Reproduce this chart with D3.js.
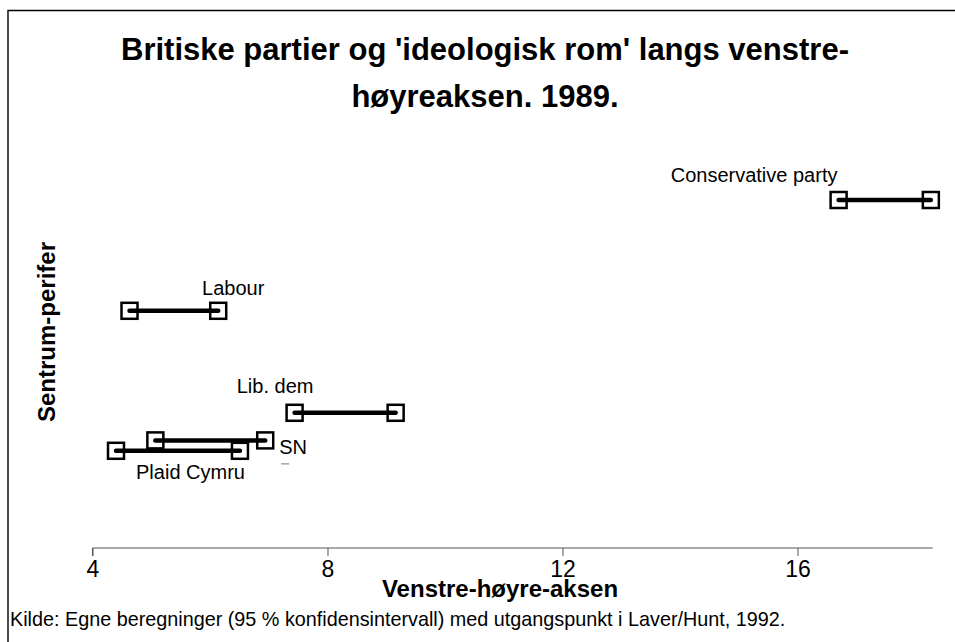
<!DOCTYPE html>
<html>
<head>
<meta charset="utf-8">
<script src="https://cdn.jsdelivr.net/npm/d3@7"></script>
<style>
  body { margin: 0; background: #fff; }
  svg { font-family: "Liberation Sans", Arial, sans-serif; }
</style>
</head>
<body>
<svg id="chart" width="955" height="642"></svg>
<script>
// parties, with the low / high end of the interval on the left-right axis
var parties = ["Conservative party", "Labour", "Lib. dem", "SN", "Plaid Cymru"];
var lowValues = [16.70, 4.63, 7.44, 5.07, 4.40];
var highValues = [18.27, 6.14, 9.16, 6.94, 6.51];
// centre-periphery position (no axis shown in the original)
var periphery = [8.7, 5.93, 3.38, 2.69, 2.43];
var xTicks = [4, 8, 12, 16];

var svg = d3.select('#chart');
var W = 955, H = 642;

var x = d3.scaleLinear().domain([4, 18.3]).range([92.5, 932.6]);
var y = d3.scaleLinear().domain([0, 10]).range([548, 148]);

var data = parties.map(function(p, i){
	return {name: p, lo: lowValues[i], hi: highValues[i], y: periphery[i]};
});

// frame (chart area is cropped on the right and bottom)
svg.append('path')
	.attr('d', 'M8,' + (H + 10) + 'V10.5H' + (W + 10))
	.attr('fill', 'none').attr('stroke', '#000').attr('stroke-width', 1.4);

// title
var title = svg.append('text')
	.attr('text-anchor', 'middle')
	.attr('font-weight', 'bold')
	.attr('font-size', 31);
title.append('tspan').attr('x', 485).attr('y', 60).text("Britiske partier og 'ideologisk rom' langs venstre-");
title.append('tspan').attr('x', 485).attr('y', 107).text("høyreaksen. 1989.");

// x axis
var xAxis = svg.append('g')
	.attr('transform', 'translate(0,' + y(0) + ')')
	.call(d3.axisBottom(x).tickValues(xTicks).tickSize(8).tickPadding(5).tickFormat(d3.format('d')));
xAxis.select('.domain').attr('stroke', '#555').attr('d', 'M' + x.range()[0] + ',8V0H' + x.range()[1]);
xAxis.selectAll('.tick line').attr('stroke', '#555');
xAxis.selectAll('.tick text')
	.attr('font-family', '"Liberation Sans", Arial, sans-serif')
	.attr('font-size', 23)
	.attr('fill', '#000');

svg.append('text')
	.attr('x', 500)
	.attr('y', 597)
	.attr('text-anchor', 'middle')
	.attr('font-weight', 'bold')
	.attr('font-size', 24)
	.text('Venstre-høyre-aksen');

svg.append('text')
	.attr('transform', 'translate(55,332) rotate(-90)')
	.attr('text-anchor', 'middle')
	.attr('font-weight', 'bold')
	.attr('font-size', 24)
	.text('Sentrum-perifer');

// intervals
var sq = 16;
var g = svg.append('g').selectAll('g.party').data(data).enter().append('g').attr('class', 'party');

g.each(function(d){
	var sel = d3.select(this);
	[d.lo, d.hi].forEach(function(v){
		sel.append('rect')
			.attr('x', x(v) - sq / 2)
			.attr('y', y(d.y) - sq / 2)
			.attr('width', sq)
			.attr('height', sq)
			.attr('fill', 'none')
			.attr('stroke', '#000')
			.attr('stroke-width', 2.5);
	});
	sel.append('line')
		.attr('x1', x(d.lo)).attr('x2', x(d.hi))
		.attr('y1', y(d.y)).attr('y2', y(d.y))
		.attr('stroke', '#000')
		.attr('stroke-width', 4.5)
		.attr('stroke-linecap', 'round');
});

// labels: [anchor end, dx, dy, text-anchor] relative to the interval
var labelPos = {
	'Conservative party': ['lo', -84.5, -18, 'middle'],
	'Labour': ['hi', 15, -16, 'middle'],
	'Lib. dem': ['lo', -19.5, -20, 'middle'],
	'SN': ['hi', 14, 13.5, 'start'],
	'Plaid Cymru': ['lo', 74.5, 28, 'middle']
};
g.append('text')
	.attr('x', function(d){ var p = labelPos[d.name]; return x(d[p[0]]) + p[1]; })
	.attr('y', function(d){ var p = labelPos[d.name]; return y(d.y) + p[2]; })
	.attr('text-anchor', function(d){ return labelPos[d.name][3]; })
	.attr('font-size', 20)
	.text(function(d){ return d.name; });

// small dash left under the SN label
var sn = data[3];
svg.append('line')
	.attr('x1', x(sn.hi) + 16).attr('x2', x(sn.hi) + 24)
	.attr('y1', y(sn.y) + 23.5).attr('y2', y(sn.y) + 23.5)
	.attr('stroke', '#777').attr('stroke-width', 1);

// source
svg.append('text')
	.attr('x', 10)
	.attr('y', 626)
	.attr('font-size', 19.8)
	.text('Kilde: Egne beregninger (95 % konfidensintervall) med utgangspunkt i Laver/Hunt, 1992.');
</script>
</body>
</html>
